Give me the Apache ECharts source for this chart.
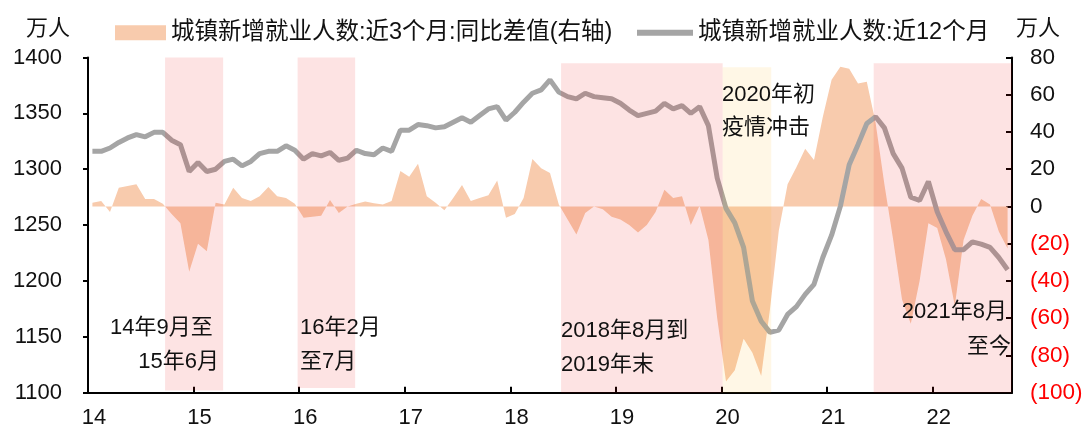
<!DOCTYPE html>
<html>
<head>
<meta charset="utf-8">
<script src="https://cdn.jsdelivr.net/npm/echarts/dist/echarts.min.js"></script>
<style>
  html, body { margin: 0; padding: 0; background: #fff; }
  #chart { width: 1090px; height: 432px; }
</style>
</head>
<body>
<div id="chart"></div>
<script>
// 城镇新增就业人数:近12个月 (万人, 左轴), 2014-01 起按月
const employ12 = [
  1316, 1316, 1319, 1324, 1328, 1331, 1329, 1333, 1333, 1326, 1322, 1298,
  1306, 1298, 1300, 1307, 1309, 1303, 1307, 1314, 1316, 1316, 1321, 1317,
  1309, 1314, 1312, 1315, 1308, 1310, 1317, 1314, 1313, 1319, 1316, 1335,
  1335, 1340, 1339, 1337, 1338, 1342, 1346, 1342, 1348, 1354, 1356, 1344,
  1351, 1360, 1368, 1371, 1380, 1369, 1365, 1363, 1368, 1365, 1364, 1363,
  1359, 1353, 1348, 1350, 1352, 1359, 1354, 1357, 1350, 1356, 1339, 1292,
  1265, 1252, 1230, 1182, 1164, 1154, 1156, 1170, 1177, 1188, 1197, 1221,
  1241, 1267, 1304, 1322, 1341, 1347, 1337, 1314, 1301, 1275, 1272, 1289,
  1262, 1244, 1228, 1228, 1235, 1233, 1230, 1221, 1210
]
// 城镇新增就业人数:近3个月:同比差值 (万人, 右轴)
const diff3 = [
  2, 3, -3, 10, 11, 12, 4, 4, 1.5, -4, -9, -35,
  -20, -24, 2, 1, 10, 4.5, 3, 5.5, 10.5, 5.5, 4.5, 1.5,
  -6, -5.5, -5, 3.5, -3.5, 0, 1.5, 2.7, 1.8, 1, 3, 19,
  16, 23, 5.5, 2, -2, 4.5, 11.5, 3, 4.5, 6, 14, -6,
  -4, 4.5, 25.5, 20.5, 18, 1, -7, -15, -3.5, 0, -1.5, -5.5,
  -7, -10, -14, -10, -3, 9, 4.5, 5.5, -10, 0.5, -18, -60,
  -94, -88, -71, -78.5, -91, -55, -13, 12, 21, 31, 25, 48,
  68, 75, 74, 66, 67, 45, 12, -18, -50, -63, -40, -9,
  -11.5, -28.5, -53.5, -18, -5, 4, 1, -13.5, -22.5
]
const months = []
for (let i = 0; i < employ12.length; i++) {
  const y = 2014 + Math.floor(i / 12)
  const m = i % 12 + 1
  months.push(y + '-' + (m < 10 ? '0' + m : m))
}
// 阴影区间 (年份坐标, 左轴数值)
const shadeStart = [14.73, 15.985, 18.48, 20.01, 21.44]
const shadeEnd = [15.28, 16.53, 20.01, 20.47, 22.75]
const shadeTop = [1400.7, 1402.5, 1394.8, 1391.2, 1394.8]
const shadeBottom = [1102, 1104.3, 1100, 1100, 1100]
const shadeColor = ['pink', 'pink', 'pink', 'yellow', 'pink']
const notes = [
  ['14年9月至', '15年6月'],
  ['16年2月', '至7月'],
  ['2018年8月到', '2019年末'],
  ['2020年初', '疫情冲击'],
  ['2021年8月', '至今']
]

const FONT = "'Liberation Sans', 'Noto Sans CJK SC', sans-serif"
const TXT = '#111'

function monthPos(label) {
  const p = label.split('-').map(Number)
  return (p[0] - 2000) + (p[1] - 0.5) / 12
}
const grayData = months.map((d, i) => [monthPos(d), employ12[i]])
const areaData = months.map((d, i) => [monthPos(d), diff3[i]])

const overlay = { pink: 'rgba(240,10,10,0.115)', yellow: 'rgba(255,175,5,0.1)' }
const areas = shadeStart.map((s, i) => [
  { xAxis: s, yAxis: shadeTop[i], itemStyle: { color: overlay[shadeColor[i]] } },
  { xAxis: shadeEnd[i], yAxis: shadeBottom[i] }
])

function note(text, x, y, align) {
  return {
    type: 'text', x: x, y: y, z: 100,
    style: { text: text, fontSize: 22, fontFamily: FONT, fill: TXT, align: align, verticalAlign: 'middle' }
  }
}

const chart = echarts.init(document.getElementById('chart'))
chart.setOption({
  animation: false,
  grid: { left: 88, right: 78, top: 57.5, bottom: 39.3 },
  legend: [
    {
      left: 110, top: 16, itemWidth: 51, itemHeight: 15, itemGap: 4,
      data: [{ name: '城镇新增就业人数:近3个月:同比差值(右轴)', icon: 'rect' }],
      textStyle: { fontSize: 23.5, fontFamily: FONT, color: TXT }
    },
    {
      left: 632, top: 16, itemWidth: 56, itemHeight: 6, itemGap: 4,
      data: [{ name: '城镇新增就业人数:近12个月', icon: 'rect' }],
      textStyle: { fontSize: 23.5, fontFamily: FONT, color: TXT }
    }
  ],
  xAxis: {
    type: 'value', min: 14, max: 22.75, interval: 1,
    splitLine: { show: false },
    axisLine: { onZero: false, lineStyle: { color: '#000', width: 2 } },
    axisTick: { inside: true, length: 6, lineStyle: { color: '#000', width: 2 } },
    axisLabel: {
      fontSize: 22, fontFamily: FONT, color: TXT, margin: 14, padding: [0, 0, 0, 12],
      showMaxLabel: false,
      formatter: v => Number.isInteger(v) ? String(v) : ''
    }
  },
  yAxis: [
    {
      type: 'value', min: 1100, max: 1400, interval: 50,
      name: '万人', nameLocation: 'end', nameGap: 18,
      nameTextStyle: { fontSize: 22, fontFamily: FONT, color: TXT, align: 'right', padding: [0, 18, 0, 0] },
      splitLine: { show: false },
      axisLine: { show: true, onZero: false, lineStyle: { color: '#000', width: 2 } },
      axisTick: { show: true, length: 5, lineStyle: { color: '#000', width: 2 } },
      axisLabel: { fontSize: 22, fontFamily: FONT, color: TXT, margin: 26, formatter: v => String(v) }
    },
    {
      type: 'value', min: -100, max: 80, interval: 20, position: 'right',
      name: '万人', nameLocation: 'end', nameGap: 18,
      nameTextStyle: { fontSize: 22, fontFamily: FONT, color: TXT, align: 'left', padding: [0, 0, 0, 4] },
      splitLine: { show: false },
      axisLine: { show: true, onZero: false, lineStyle: { color: '#000', width: 2 } },
      axisTick: { show: true, inside: true, length: 6, lineStyle: { color: '#000', width: 2 } },
      axisLabel: {
        fontSize: 22.5, fontFamily: FONT, margin: 18,
        color: v => (v < 0 ? '#ff0000' : TXT),
        formatter: v => (v < 0 ? '(' + (-v) + ')' : String(v))
      }
    }
  ],
  series: [
    {
      name: '城镇新增就业人数:近3个月:同比差值(右轴)',
      type: 'line', yAxisIndex: 1, data: areaData, symbol: 'none', z: 1,
      color: '#F8CBAD',
      lineStyle: { width: 0 },
      areaStyle: { color: '#F8CBAD', opacity: 1 }
    },
    {
      name: '城镇新增就业人数:近12个月',
      type: 'line', yAxisIndex: 0, data: grayData, symbol: 'none', z: 3,
      color: '#A5A5A5',
      lineStyle: { width: 5, color: '#A5A5A5' }
    },
    {
      name: 'shade', type: 'line', yAxisIndex: 0, data: [], z: 10, clip: false,
      markArea: { silent: true, z: 10, data: areas, label: { show: false } }
    }
  ],
  graphic: [
    note(notes[0][0], 110, 328, 'left'),
    note(notes[0][1], 219, 362, 'right'),
    note(notes[1][0], 300, 328, 'left'),
    note(notes[1][1], 300, 362, 'left'),
    note(notes[2][0], 561, 331, 'left'),
    note(notes[2][1], 561, 365, 'left'),
    note(notes[3][0], 722, 95, 'left'),
    note(notes[3][1], 722, 128, 'left'),
    note(notes[4][0], 1007, 312, 'right'),
    note(notes[4][1], 1011, 347, 'right')
  ]
})
</script>
</body>
</html>
